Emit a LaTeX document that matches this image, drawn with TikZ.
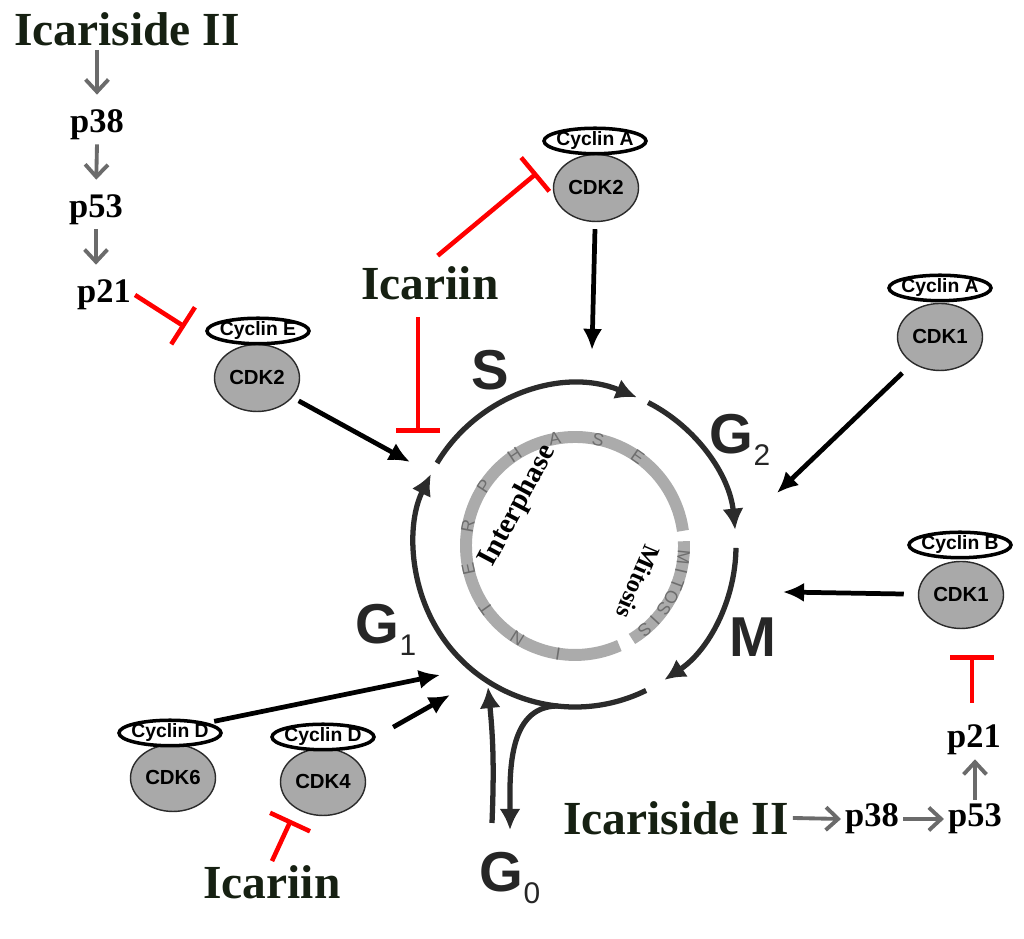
\documentclass[tikz,border=0pt]{standalone}
\usepackage{fontspec}
\setmainfont{Liberation Serif}
\setsansfont{Liberation Sans}
\usetikzlibrary{arrows.meta,shapes.geometric}

\definecolor{icagreen}{RGB}{22,32,18}
\definecolor{ringgray}{HTML}{ABABAB}
\definecolor{lettergray}{HTML}{6E6E6E}
\definecolor{cdkgray}{HTML}{A9A9A9}
\definecolor{cycdark}{HTML}{2B2B2B}
\definecolor{signalgray}{HTML}{6B6B6B}

\newcommand{\phase}[2]{#1\raisebox{-3.4pt}{\fontsize{8.5}{9}\selectfont\mdseries #2}}

\begin{document}
\begin{tikzpicture}[
    cyc/.style={draw=cycdark, line width=1.5pt, -{Latex[length=6pt,width=6pt]}},
    ring/.style={draw=ringgray, line width=3.4pt},
    ringletter/.style={text=lettergray, font=\sffamily\fontsize{5}{6}\selectfont, inner sep=0pt},
    cyclin/.style={ellipse, draw, line width=1pt, fill=white, minimum width=1.02cm, minimum height=0.24cm, inner sep=0pt, font=\sffamily\bfseries\fontsize{5.5}{7}\selectfont},
    cdk/.style={ellipse, draw=cycdark, fill=cdkgray, minimum width=0.85cm, minimum height=0.67cm, inner sep=0pt, font=\sffamily\bfseries\fontsize{5.8}{7}\selectfont},
    act/.style={line width=1.35pt, -{Latex[length=6pt,width=5.5pt]}, shorten <=2pt},
    inhib/.style={draw=red, line width=1.3pt, -{Bar[width=4.4mm]}},
    drug/.style={text=icagreen, font=\bfseries\fontsize{13.5}{15}\selectfont, inner sep=1pt},
    prot/.style={font=\bfseries\fontsize{9.8}{11}\selectfont, inner sep=1pt},
    signal/.style={draw=signalgray, line width=1.1pt, -{Straight Barb[length=3.5pt,width=6.5pt]}},
    phaselabel/.style={font=\sffamily\bfseries\fontsize{16}{18}\selectfont, text=black!85, inner sep=0pt}
]
    \useasboundingbox (0,0) rectangle (10.24,9.39);

    % Cell cycle ring
    \coordinate (C) at (5.75,3.93);
    \draw[cyc] ([shift={(149:1.61)}]C) arc[start angle=149, end angle=67.4, radius=1.61];
    \draw[cyc] ([shift={(63:1.61)}]C) arc[start angle=63, end angle=5.8, radius=1.61];
    \draw[cyc] ([shift={(-0.7:1.61)}]C) arc[start angle=-0.7, end angle=-56.3, radius=1.61];
    \draw[cyc] ([shift={(-63.8:1.61)}]C) arc[start angle=-63.8, end angle=-206.5, radius=1.61];

    % Interphase / mitosis ring
    \draw[ring] ([shift={(8:1.09)}]C) arc[start angle=8, end angle=294, radius=1.09];
    \draw[ring] ([shift={(2.5:1.09)}]C) arc[start angle=2.5, end angle=-58.5, radius=1.09];
    \foreach \l [count=\i from 0] in {I,N,T,E,R,P,H,A,S,E}
        \node[ringletter, rotate=171-22.9*\i] (inter\i) at ([shift={(261-22.9*\i:1.09)}]C) {\l};
    \foreach \l [count=\i from 0] in {M,I,T,O,S,I,S}
        \node[ringletter, rotate=-95.8-7.4*\i] (mito\i) at ([shift={(-5.8-7.4*\i:1.09)}]C) {\l};
    \node[rotate=62, font=\bfseries\fontsize{8.2}{9}\selectfont, inner sep=0pt] (interlbl) at (5.18,4.33) {Interphase};
    \node[rotate=-113, font=\bfseries\fontsize{7}{8}\selectfont, inner sep=0pt] (mitolbl) at (6.38,3.57) {Mitosis};

    % Phase labels
    \node[phaselabel] (S) at (4.90,5.69) {S};
    \node[phaselabel] (G2) at (7.40,4.99) {\phase{G}{2}};
    \node[phaselabel] (M) at (7.53,3.02) {M};
    \node[phaselabel] (G1) at (3.86,3.09) {\phase{G}{1}};
    \node[phaselabel] (G0) at (5.10,0.61) {\phase{G}{0}};

    % G0 exit and re-entry
    \coordinate (g0in) at (4.88,2.52);
    \coordinate (g0up) at (4.92,1.16);
    \coordinate (g0out) at (5.58,2.33);
    \coordinate (g0dn) at (5.10,1.09);
    \draw[cyc] (g0up) to[bend right=4] (g0in);
    \draw[cyc] (g0out) to[out=180,in=90] (g0dn);

    % Cyclin / CDK complexes
    \node[cdk] (cdk2A) at (5.96,7.51) {CDK2};
    \node[cyclin] (cycA) at (5.95,7.98) {\makebox[0pt]{Cyclin A}};
    \node[cdk] (cdk2E) at (2.57,5.61) {CDK2};
    \node[cyclin] (cycE) at (2.58,6.08) {\makebox[0pt]{Cyclin E}};
    \node[cdk] (cdk1A) at (9.40,6.02) {CDK1};
    \node[cyclin] (cycA2) at (9.40,6.51) {\makebox[0pt]{Cyclin A}};
    \node[cdk] (cdk1B) at (9.61,3.44) {CDK1};
    \node[cyclin] (cycB) at (9.60,3.94) {\makebox[0pt]{Cyclin B}};
    \node[cdk] (cdk6) at (1.73,1.61) {CDK6};
    \node[cyclin] (cycD6) at (1.70,2.06) {\makebox[0pt]{Cyclin D}};
    \node[cdk] (cdk4) at (3.23,1.57) {CDK4};
    \node[cyclin] (cycD4) at (3.23,2.02) {\makebox[0pt]{Cyclin D}};

    % Activation arrows
    \coordinate (tipA) at (5.92,5.89);
    \coordinate (tipE) at (4.10,4.77);
    \coordinate (tipA1) at (7.77,4.46);
    \coordinate (tipB) at (7.83,3.47);
    \coordinate (tipD6) at (4.40,2.64);
    \coordinate (tipD4) at (4.50,2.44);
    \draw[act] (cdk2A) -- (tipA);
    \draw[act] (cdk2E) -- (tipE);
    \draw[act, shorten <=4pt] (cdk1A) -- (tipA1);
    \draw[act, shorten <=4pt] (cdk1B) -- (tipB);
    \draw[act] (cycD6.north east) -- (tipD6);
    \draw[act, shorten <=0.2cm] (cycD4.east) -- (tipD4);

    % Drugs and p38/p53/p21
    \node[drug] (ica1) at (1.27,9.10) {Icariside II};
    \node[prot] (p38a) at (0.97,8.14) {p38};
    \node[prot] (p53a) at (0.96,7.29) {p53};
    \node[prot] (p21a) at (1.04,6.44) {p21};
    \node[drug] (icaT) at (4.30,6.56) {Icariin};
    \node[drug] (icaB) at (2.72,0.57) {Icariin};
    \node[drug] (ica2) at (6.76,1.21) {Icariside II};
    \node[prot] (p38b) at (8.72,1.20) {p38};
    \node[prot] (p53b) at (9.75,1.20) {p53};
    \node[prot] (p21b) at (9.74,1.99) {p21};

    \draw[signal, shorten >=0.11cm] (p38a.north |- ica1.south) -- (p38a.north);
    \draw[signal, shorten >=0.11cm] (p38a.south) -- (p53a.north);
    \draw[signal, shorten >=0.11cm] (p53a.south) -- (p53a.south |- p21a.north);
    \draw[signal] (ica2.east) -- (p38b.west);
    \draw[signal] (p38b.east) -- (p53b.west);
    \draw[signal] (p53b.north) -- (p53b.north |- p21b.south);

    % Inhibition
    \coordinate (barE) at (1.85,6.12);
    \coordinate (barA) at (5.37,7.66);
    \coordinate (barS) at (4.18,5.06);
    \coordinate (bar4) at (2.91,1.19);
    \coordinate (barB) at (9.72,2.84);
    \draw[inhib] (p21a.east) -- (barE);
    \draw[inhib, shorten <=0.1cm] (icaT.north) -- (barA);
    \draw[inhib, shorten <=0.13cm] (icaT.south -| barS) -- (barS);
    \draw[inhib, shorten <=0.18cm] (p21b.north -| barB) -- (barB);
    \draw[inhib] (icaB.north) -- (bar4);
\end{tikzpicture}
\end{document}
